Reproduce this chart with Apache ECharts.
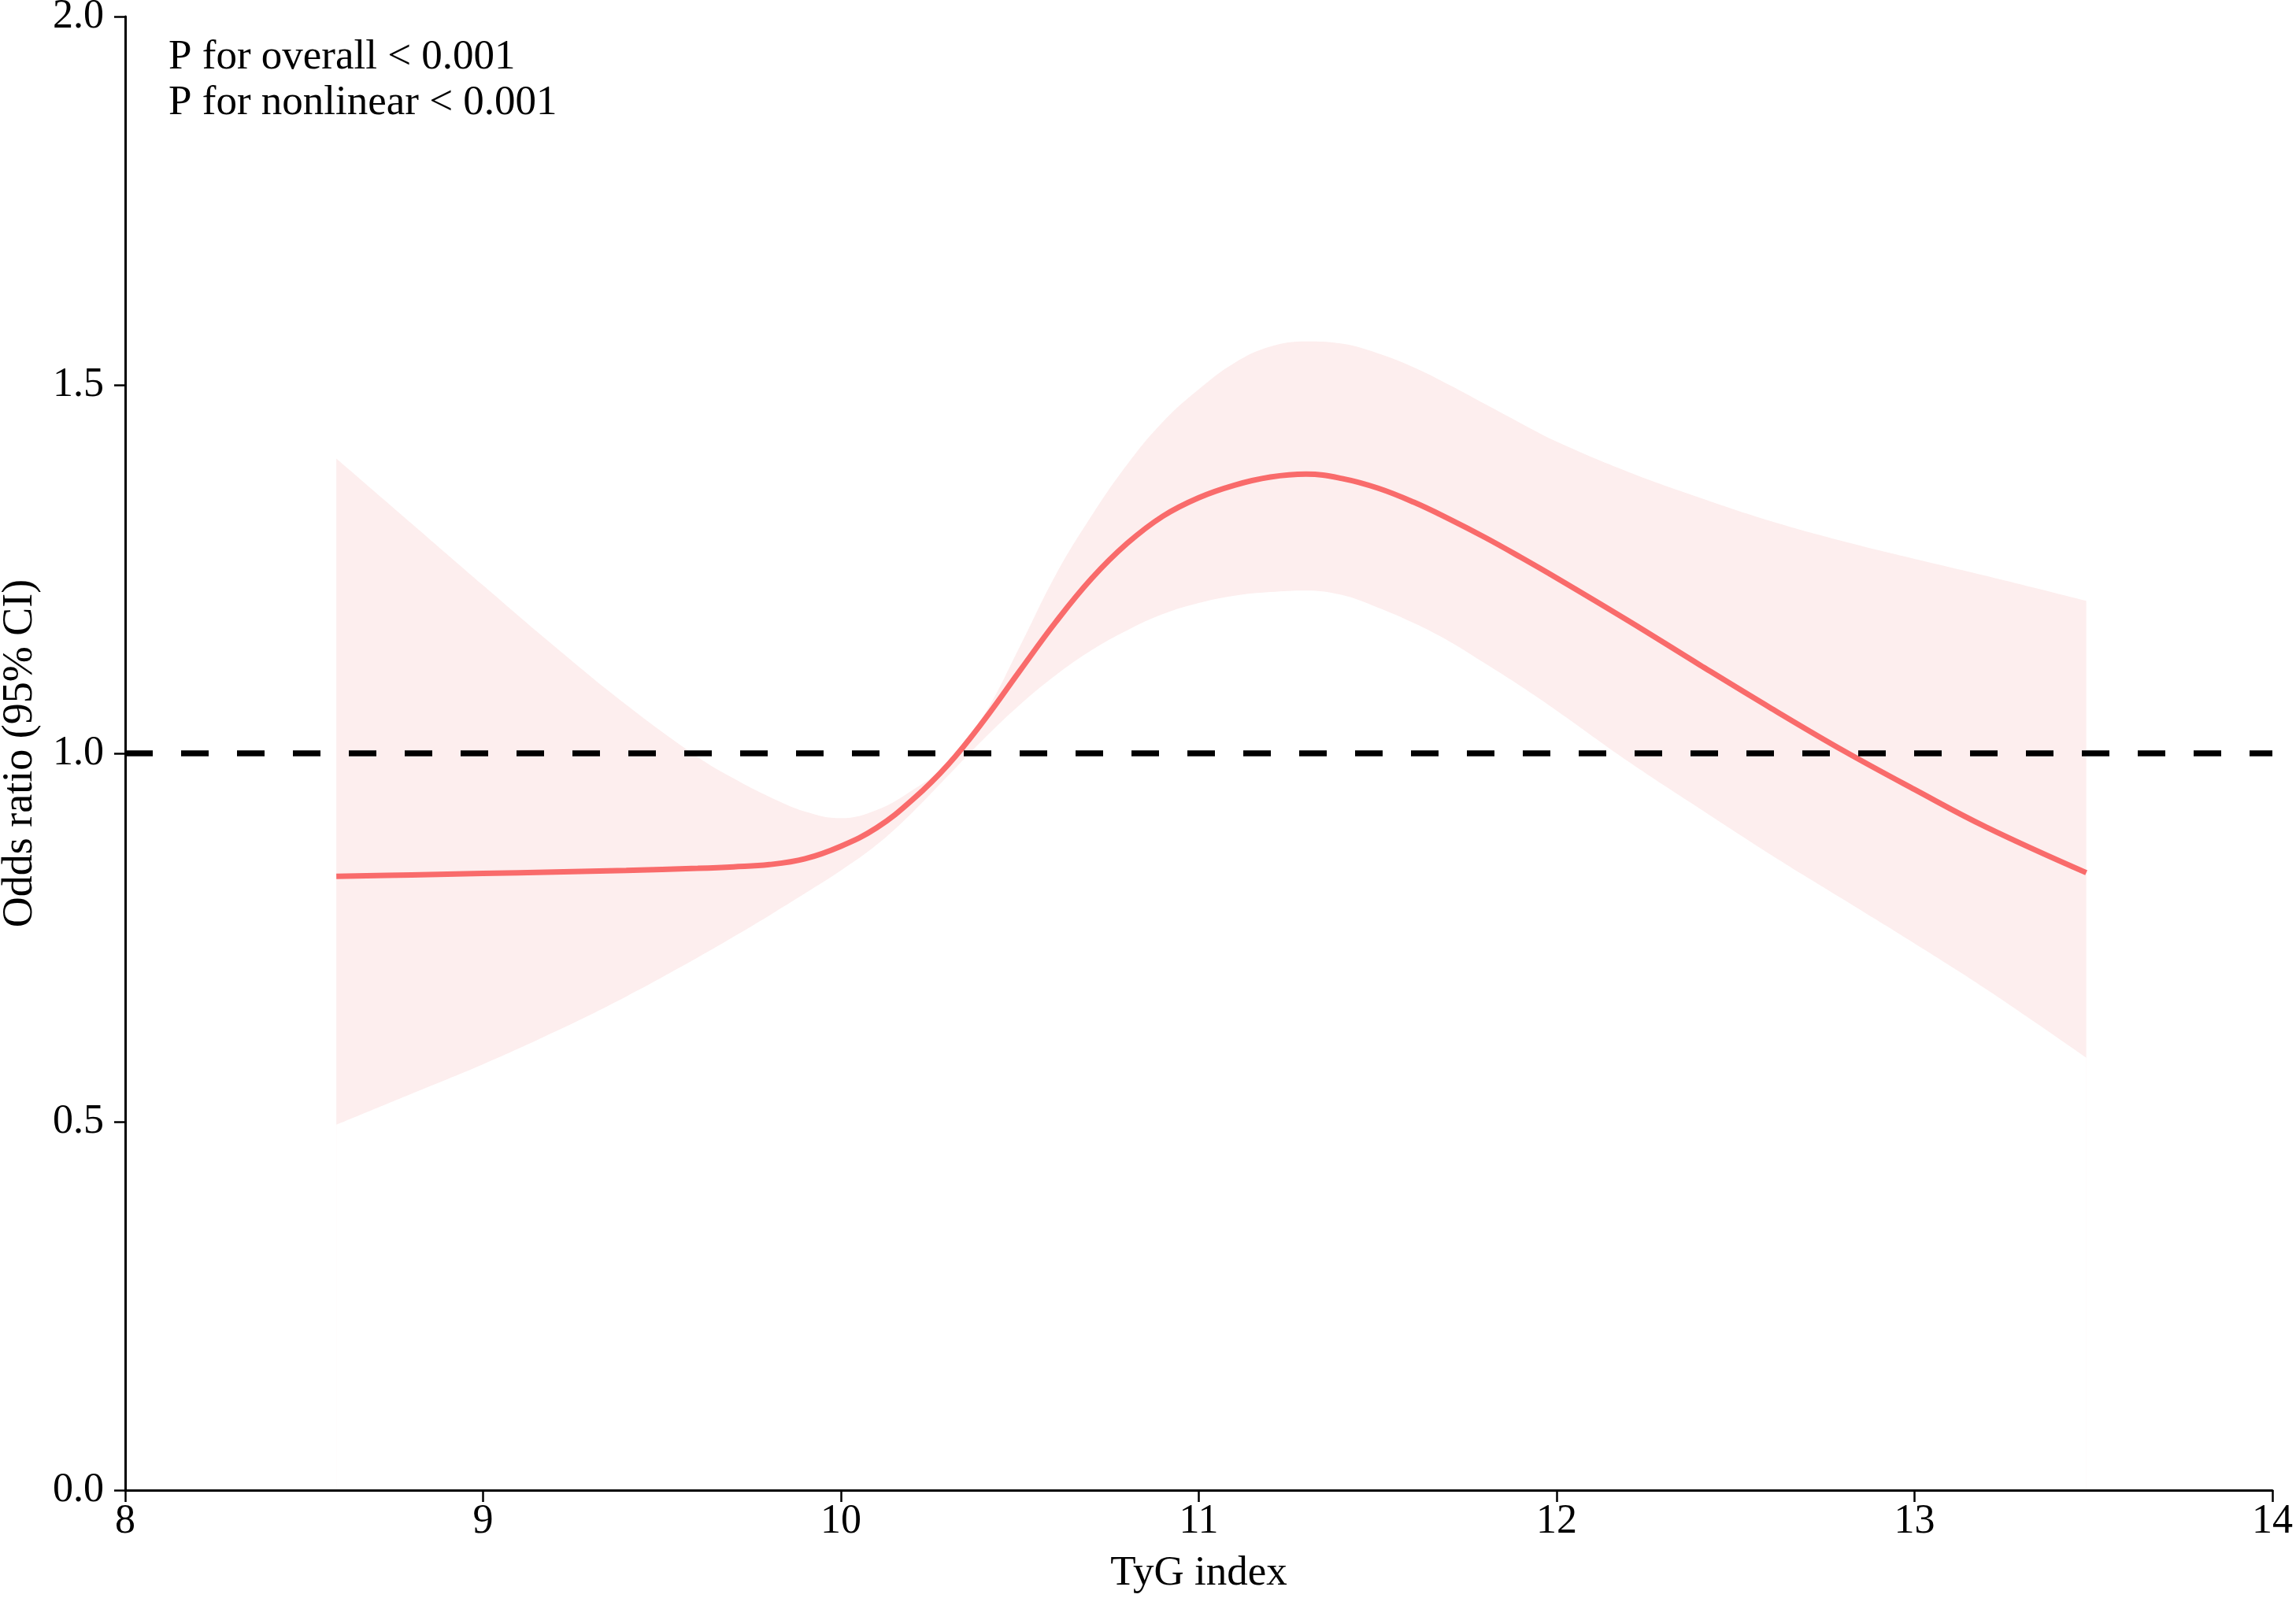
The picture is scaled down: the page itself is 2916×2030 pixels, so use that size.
<!DOCTYPE html>
<html>
<head>
<meta charset="utf-8">
<script src="https://cdn.jsdelivr.net/npm/echarts@6/dist/echarts.min.js"></script>
<style>
html,body{margin:0;padding:0;background:#fff;}
#chart{width:2916px;height:2030px;}
</style>
</head>
<body>
<div id="chart"></div>
<script>
const tygIndex = [8.59, 8.8, 9.0, 9.2, 9.4, 9.6, 9.7, 9.8, 9.9, 10.0, 10.1, 10.2, 10.3, 10.4, 10.5, 10.6, 10.7, 10.8, 10.9, 11.0, 11.1, 11.2, 11.3, 11.4, 11.5, 11.6, 11.7, 11.8, 11.9, 12.0, 12.2, 12.4, 12.6, 12.8, 13.0, 13.2, 13.48];
const oddsRatio = [0.833, 0.835, 0.837, 0.839, 0.841, 0.844, 0.846, 0.849, 0.857, 0.874, 0.899, 0.937, 0.985, 1.045, 1.112, 1.178, 1.237, 1.285, 1.322, 1.347, 1.364, 1.375, 1.379, 1.373, 1.360, 1.341, 1.318, 1.293, 1.266, 1.238, 1.180, 1.120, 1.061, 1.004, 0.951, 0.900, 0.838];
const ciUpper = [1.400, 1.312, 1.228, 1.145, 1.066, 0.995, 0.966, 0.941, 0.921, 0.912, 0.923, 0.950, 0.987, 1.052, 1.145, 1.242, 1.322, 1.392, 1.450, 1.494, 1.530, 1.552, 1.559, 1.556, 1.543, 1.524, 1.500, 1.474, 1.448, 1.423, 1.382, 1.347, 1.315, 1.288, 1.264, 1.241, 1.207];
const ciLower = [0.496, 0.538, 0.578, 0.622, 0.670, 0.723, 0.751, 0.780, 0.810, 0.841, 0.876, 0.920, 0.970, 1.020, 1.066, 1.106, 1.140, 1.167, 1.189, 1.204, 1.214, 1.219, 1.221, 1.215, 1.198, 1.177, 1.152, 1.122, 1.091, 1.058, 0.989, 0.925, 0.862, 0.802, 0.742, 0.680, 0.587];
const referenceOR = 1;
const xTicks = [8, 9, 10, 11, 12, 13, 14];
const yTicks = [0.0, 0.5, 1.0, 1.5, 2.0];
const pTexts = ['P for overall < 0.001', 'P for nonlinear < 0.001'];

const FONT = '"Liberation Serif", "Times New Roman", serif';
const chart = echarts.init(document.getElementById('chart'), null, {renderer: 'canvas'});

const upperData = tygIndex.map((x, i) => [x, ciUpper[i]]);
const lowerData = tygIndex.map((x, i) => [x, ciLower[i]]);
const lineData = tygIndex.map((x, i) => [x, oddsRatio[i]]);
const SMOOTH = 0.4;

chart.setOption({
  animation: false,
  backgroundColor: '#ffffff',
  grid: {left: 159, right: 30, top: 21, bottom: 137, containLabel: false, outerBoundsMode: 'none'},
  xAxis: {
    type: 'value', z: 10,
    min: xTicks[0], max: xTicks[xTicks.length - 1], interval: 1,
    name: 'TyG index', nameLocation: 'middle', nameGap: 80,
    nameTextStyle: {fontFamily: FONT, fontSize: 53, color: '#000'},
    axisLine: {show: true, onZero: false, lineStyle: {color: '#000', width: 3}},
    axisTick: {show: true, length: 15, lineStyle: {color: '#000', width: 2.5}},
    axisLabel: {fontFamily: FONT, fontSize: 52, color: '#000', margin: 14},
    splitLine: {show: false}
  },
  yAxis: {
    type: 'value', z: 10,
    min: yTicks[0], max: yTicks[yTicks.length - 1], interval: 0.5,
    name: 'Odds ratio (95% CI)', nameLocation: 'middle', nameGap: 106, nameRotate: 90,
    nameTextStyle: {fontFamily: FONT, fontSize: 54, color: '#000'},
    axisLine: {show: true, onZero: false, lineStyle: {color: '#000', width: 3}},
    axisTick: {show: true, length: 14, lineStyle: {color: '#000', width: 2.5}},
    axisLabel: {fontFamily: FONT, fontSize: 52, color: '#000', margin: 27,
      formatter: v => v.toFixed(1)},
    splitLine: {show: false}
  },
  graphic: [
    {type: 'text', left: 214, top: 47, z: 100,
      style: {text: pTexts[0], font: '53px ' + FONT, fill: '#000'}},
    {type: 'text', left: 214, top: 105, z: 100,
      style: {text: pTexts[1], font: '53px ' + FONT, fill: '#000'}}
  ],
  series: [
    {
      type: 'line', name: 'upper', data: upperData,
      smooth: SMOOTH, symbol: 'none', lineStyle: {width: 0, opacity: 0},
      areaStyle: {color: '#FDEEEE', opacity: 1, origin: 'start'}, z: 1, silent: true
    },
    {
      type: 'line', name: 'lower', data: lowerData,
      smooth: SMOOTH, symbol: 'none', lineStyle: {width: 0, opacity: 0},
      areaStyle: {color: '#FFFFFF', opacity: 1, origin: 'start'}, z: 2, silent: true
    },
    {
      type: 'line', name: 'ref', data: [], symbol: 'none', z: 3,
      markLine: {
        silent: true, symbol: ['none', 'none'], label: {show: false},
        lineStyle: {color: '#000', width: 7.5, type: [35, 36]},
        data: [{yAxis: referenceOR}]
      }
    },
    {
      type: 'line', name: 'OR', data: lineData, smooth: SMOOTH, symbol: 'none',
      lineStyle: {color: '#F96B6B', width: 7}, z: 4
    }
  ]
});
</script>
</body>
</html>
